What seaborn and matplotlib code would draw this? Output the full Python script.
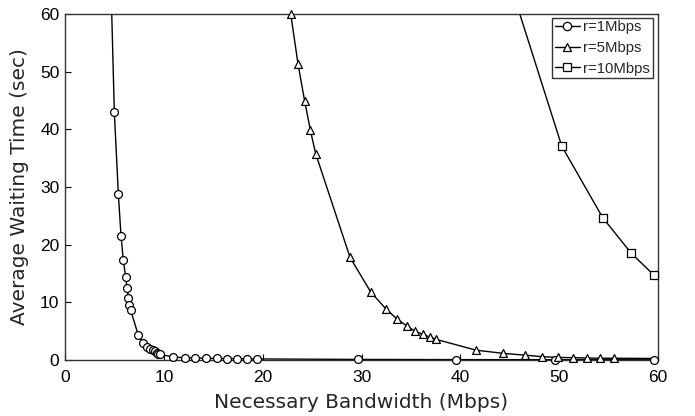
import numpy as np
import pandas as pd
import seaborn as sns
import matplotlib
matplotlib.use("Agg")
import matplotlib.pyplot as plt
from matplotlib.lines import Line2D

# ---- data ----
r1_x = [4.5, 4.99, 5.4, 5.67, 5.9, 6.14, 6.28, 6.41, 6.5, 6.65, 7.42, 7.93,
        8.33, 8.6, 8.88, 9.1, 9.28, 9.45, 9.6, 10.96, 12.1, 13.2, 14.3, 15.4,
        16.4, 17.4, 18.45, 19.46, 29.6, 39.6, 49.6, 59.6, 62.0]
r1_y = [75.0, 43.0, 28.7, 21.5, 17.3, 14.4, 12.4, 10.8, 9.5, 8.6, 4.3, 2.9,
        2.3, 1.9, 1.7, 1.5, 1.3, 1.1, 1.0, 0.5, 0.4, 0.35, 0.3, 0.27,
        0.25, 0.22, 0.2, 0.18, 0.1, 0.07, 0.05, 0.04, 0.04]

r5_x = [22.84, 23.58, 24.25, 24.82, 25.36, 28.84, 30.93, 32.45, 33.6, 34.6,
        35.4, 36.2, 36.9, 37.5, 41.6, 44.35, 46.5, 48.3, 49.85, 51.4, 52.8,
        54.1, 55.5, 62.0]
r5_y = [60.0, 51.3, 44.9, 39.9, 35.8, 17.8, 11.8, 8.9, 7.1, 5.9,
        5.0, 4.45, 4.0, 3.6, 1.7, 1.15, 0.85, 0.57, 0.45, 0.4, 0.35,
        0.3, 0.3, 0.25]

r10_x = [45.2, 50.26, 54.4, 57.3, 59.6]
r10_y = [64.4, 37.1, 24.7, 18.5, 14.7]

labels = ["r=1Mbps", "r=5Mbps", "r=10Mbps"]
markers = ["o", "^", "s"]
x_ticks = [0, 10, 20, 30, 40, 50, 60]
y_ticks = [0, 10, 20, 30, 40, 50, 60]

# ---- style ----
sns.set_style("ticks")
plt.rcParams["font.family"] = ["Liberation Sans", "DejaVu Sans"]

W, H = 695, 416
fig = plt.figure(figsize=(W / 100, H / 100), dpi=100)
ax = fig.add_axes([65 / W, 56 / H, 593 / W, 346 / H])

series = [(r1_x, r1_y), (r5_x, r5_y), (r10_x, r10_y)]
handles = []
for (xs, ys), lab, m in zip(series, labels, markers):
    df = pd.DataFrame({"x": xs, "y": ys})
    sns.lineplot(data=df, x="x", y="y", color="black", linewidth=1.0,
                 sort=False, estimator=None, legend=False, ax=ax, zorder=2)
    vis = df[(df.x <= 60) & (df.y <= 60)]
    sns.scatterplot(data=vis, x="x", y="y", marker=m, s=32,
                    facecolor="white", edgecolor="black", linewidth=0.9,
                    clip_on=False, zorder=3, legend=False, ax=ax)
    handles.append(Line2D([], [], color="black", lw=1.0, marker=m,
                          markersize=6, markerfacecolor="white",
                          markeredgecolor="black", markeredgewidth=0.9,
                          label=lab))

ax.set_xlim(0, 60)
ax.set_ylim(0, 60)
ax.set_xticks(x_ticks)
ax.set_yticks(y_ticks)
ax.tick_params(direction="in", length=4, width=0.8, labelsize=12.5,
               colors="black")
ax.tick_params(axis="x", pad=7)
ax.tick_params(axis="y", pad=4)
for sp in ax.spines.values():
    sp.set_visible(True)
    sp.set_color("#333333")
    sp.set_linewidth(1.0)

ax.set_xlabel("Necessary Bandwidth (Mbps)", fontsize=14.5,
              family=["DejaVu Sans"], labelpad=6)
ax.set_ylabel("Average Waiting Time (sec)", fontsize=14.5,
              family=["DejaVu Sans"], labelpad=8)

leg = ax.legend(handles=handles, loc="upper right",
                bbox_to_anchor=(652.5 / W, (H - 17.5) / H),
                bbox_transform=fig.transFigure, fontsize=10.7,
                frameon=True, fancybox=False, shadow=False,
                handlelength=1.68, handletextpad=0.23, borderpad=0.18,
                labelspacing=0.45, borderaxespad=0.0)
leg.get_frame().set_edgecolor("black")
leg.get_frame().set_linewidth(1.0)

fig.savefig("out.png", dpi=100)
